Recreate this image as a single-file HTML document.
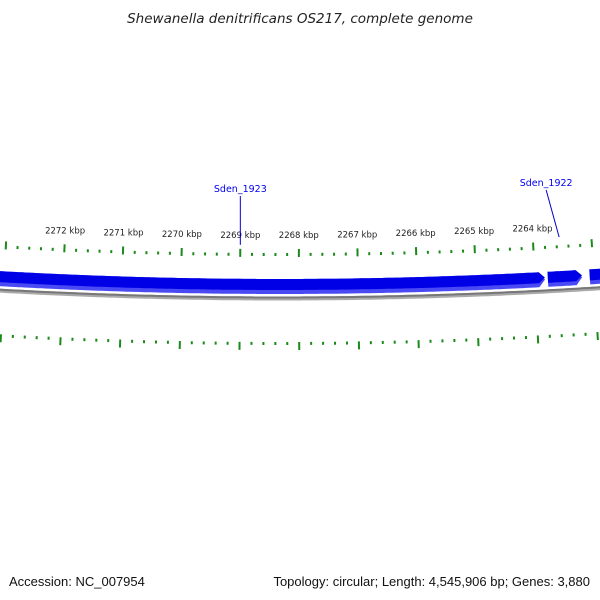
<!DOCTYPE html>
<html><head><meta charset="utf-8"><style>
html,body{margin:0;padding:0;background:#fff;width:600px;height:600px;overflow:hidden}
svg{display:block;font-family:"DejaVu Sans","Liberation Sans",sans-serif}
</style></head><body>
<svg id="map" width="600" height="600" viewBox="0 0 600 600">
<text x="300" y="23" text-anchor="middle" font-size="13.5" font-style="italic" fill="#222">Shewanella denitrificans OS217, complete genome</text>
<g id="ticks"></g>
<g id="genes"></g>
<g id="labels"></g>
<text x="9" y="586" font-size="13" fill="#111" style="font-family:'Liberation Sans',sans-serif">Accession: NC_007954</text>
<text x="590" y="586" text-anchor="end" font-size="13" fill="#111" style="font-family:'Liberation Sans',sans-serif">Topology: circular; Length: 4,545,906 bp; Genes: 3,880</text>
</svg>
<script>
const majorTicksKbp=[2272,2271,2270,2269,2268,2267,2266,2265,2264];
const tickLabels=["2272 kbp","2271 kbp","2270 kbp","2269 kbp","2268 kbp","2267 kbp","2266 kbp","2265 kbp","2264 kbp"];
const geneNames=["Sden_1923","Sden_1922","Sden_1921"];
const geneStarts=[2274.5,2263.78,2263.07];
const geneEnds=[2263.83,2263.2,2262.0];
const labeledGenes=["Sden_1923","Sden_1922"];
const labelPos=[2269.0,2263.55];

const NS="http://www.w3.org/2000/svg";
const R=5000, CX=280, CY=285-R, PXPERKBP=59, KBP0=2269-40/59;
function ang(k){return (KBP0-k)*PXPERKBP/R;}
function pt(k,y){const r=y-CY,a=ang(k);return [CX+r*Math.sin(a),CY+r*Math.cos(a)];}
function mk(tag,attrs,parent){const e=document.createElementNS(NS,tag);for(const k in attrs)e.setAttribute(k,attrs[k]);parent.appendChild(e);return e;}
const tg=document.getElementById('ticks'),gg=document.getElementById('genes'),lg=document.getElementById('labels');

for(let k=2274;k>=2262;k-=0.2){
  const kk=Math.round(k*10)/10, major=Math.abs(kk-Math.round(kk))<1e-6;
  [[249,257,253,256],[342,350,342,345]].forEach((ys)=>{
    const a=pt(kk,major?ys[0]:ys[2]),b=pt(kk,major?ys[1]:ys[3]);
    const l=mk('line',{x1:a[0],y1:a[1],x2:b[0],y2:b[1],stroke:'#1a8a1a','stroke-width':2},tg);
    
    
  });
}
majorTicksKbp.forEach((k,i)=>{
  const p=pt(k,238);
  const t=mk('text',{x:p[0],y:p[1],'text-anchor':'middle','font-size':'8.5',fill:'#222'},tg);
  t.textContent=tickLabels[i];
  
  
});

(function(){
  const pts=[];for(let k=2275;k>=2261;k-=0.1)pts.push(pt(k,298.5));
  const d='M'+pts.map(p=>p[0].toFixed(1)+','+p[1].toFixed(1)).join(' L');
  mk('path',{d:d,stroke:'#aaa',fill:'none','stroke-width':4},gg);
  const p2=mk('path',{d:d,stroke:'#777',fill:'none','stroke-width':2,transform:'translate(0,-1)'},gg);
  
  
})();

function genePath(s,e,y0,y1){
  const head=6/PXPERKBP,len=s-e,bodyEnd=len>head?e+head:s;
  const top=[],bot=[];
  for(let k=s;k>bodyEnd;k-=0.05){top.push(pt(k,y0));bot.push(pt(k,y1));}
  top.push(pt(bodyEnd,y0));bot.push(pt(bodyEnd,y1));
  const tip=pt(e,(y0+y1)/2);
  const all=top.concat([tip]).concat(bot.reverse());
  return 'M'+all.map(p=>p[0].toFixed(1)+','+p[1].toFixed(1)).join(' L')+'Z';
}
geneNames.forEach((n,i)=>{
  const g=mk('g',{},gg);
  
  
  mk('path',{d:genePath(geneStarts[i],geneEnds[i],279,294),fill:'#4a4af5'},g);
  mk('path',{d:genePath(geneStarts[i],geneEnds[i],279,290),fill:'#0000e6'},g);
});

labeledGenes.forEach((n,i)=>{
  const k=labelPos[i];
  const a=pt(k,245);
  const lx=i===0?a[0]:a[0]-13, ly=i===0?196:190;
  const l=mk('line',{x1:lx,y1:ly,x2:a[0],y2:a[1],stroke:'#0000cc','stroke-width':1},lg);
  
  
  const t=mk('text',{x:lx,y:ly-4,'text-anchor':'middle','font-size':'9.5',fill:'#0000ee'},lg);
  t.textContent=n;
  
  
});
</script>
</body></html>
